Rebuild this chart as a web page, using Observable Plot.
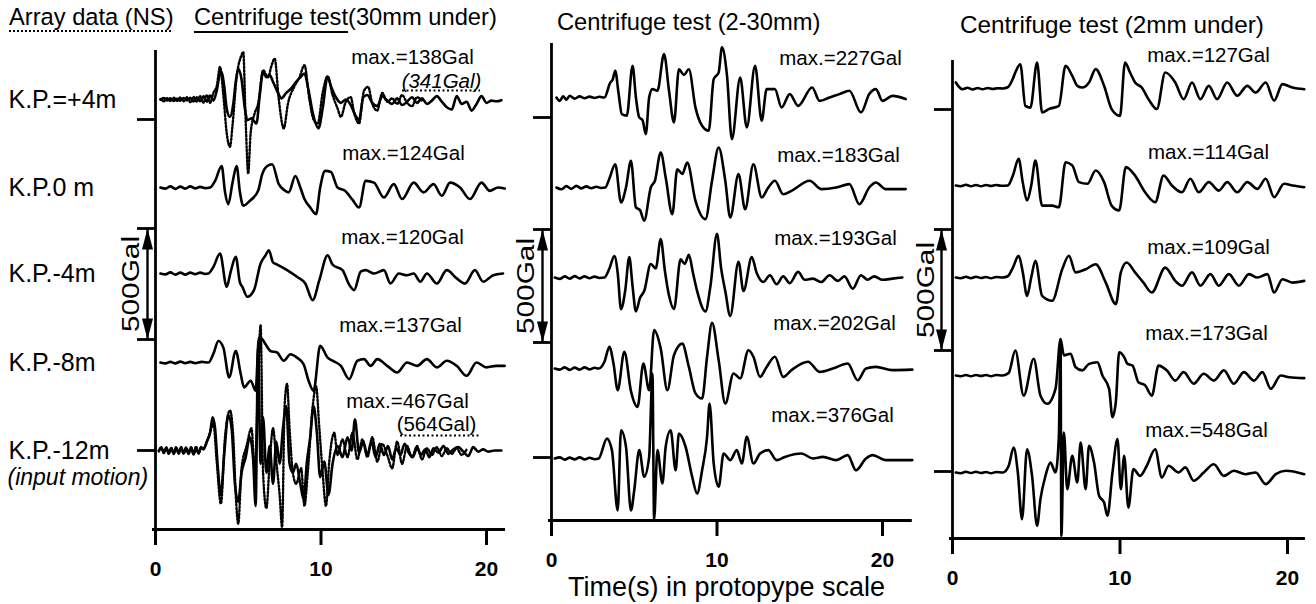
<!DOCTYPE html>
<html><head><meta charset="utf-8">
<script src="https://cdn.jsdelivr.net/npm/d3@7"></script>
<script src="https://cdn.jsdelivr.net/npm/@observablehq/plot@0.6"></script>
<style>
body{margin:0;background:#fff;}
#wrap{position:relative;width:1316px;height:604px;overflow:hidden;background:#fff;font-family:"Liberation Sans",Arial,sans-serif;color:#000;}
.t{position:absolute;white-space:nowrap;line-height:1;}
</style></head><body>
<div id="wrap">
 <div class="t" style="left:9px;top:6px;font-size:23.7px"><span style="text-decoration:underline dotted 2px;text-underline-offset:5px">Array data (NS)</span></div>
 <div class="t" style="left:194px;top:6px;font-size:23.7px"><span style="text-decoration:underline solid 2px;text-underline-offset:6px">Centrifuge test</span>(30mm under)</div>
 <div class="t" style="left:557px;top:11px;font-size:23.7px">Centrifuge test (2-30mm)</div>
 <div class="t" style="left:960px;top:13px;font-size:24.3px">Centrifuge test (2mm under)</div>
 <div class="t" style="left:568px;top:574px;font-size:27px">Time(s) in protopype scale</div>
</div>
<script>
// ---------- text content ----------
const rowNames = ["K.P.=+4m", "K.P.0 m", "K.P.-4m", "K.P.-8m", "K.P.-12m"];
const inputNote = "(input motion)";
const panel1Max = ["max.=138Gal", "max.=124Gal", "max.=120Gal", "max.=137Gal", "max.=467Gal"];
const panel1ArrayMax = ["(341Gal)", "(564Gal)"];
const panel2Max = ["max.=227Gal", "max.=183Gal", "max.=193Gal", "max.=202Gal", "max.=376Gal"];
const panel3Max = ["max.=127Gal", "max.=114Gal", "max.=109Gal", "max.=173Gal", "max.=548Gal"];
const timeTicks = [0, 10, 20];
const scaleBarLabel = "500Gal";

// ---------- traces: flat [time s, acceleration Gal, ...] ----------
// Panel 1: Centrifuge test (30mm under)
const p1_kp4 = [0.3,0, 0.5,6, 0.7,-4, 0.9,5, 1.1,-6, 1.3,3, 1.5,-5, 1.7,7, 1.9,-4, 2.1,8, 2.3,-9, 2.5,10, 2.7,-8, 2.9,14, 3.1,-10, 3.3,18, 3.5,-5, 3.7,40, 3.9,118, 4.0,124, 4.15,60, 4.3,-40, 4.5,-78, 4.7,-20, 4.85,80, 5.0,138, 5.2,90, 5.4,-40, 5.55,-93, 5.8,-85, 6.1,-108, 6.3,20, 6.5,124, 6.7,100, 6.9,110, 7.1,80, 7.4,30, 7.6,5, 7.9,30, 8.2,50, 8.5,80, 8.75,100, 9.0,117, 9.25,40, 9.5,-60, 9.85,-130, 10.1,-40, 10.4,102, 10.6,60, 10.9,10, 11.2,-15, 11.5,0, 11.8,-25, 12.1,-75, 12.3,-93, 12.55,10, 12.8,20, 13.1,-15, 13.4,-30, 13.7,15, 14.0,-5, 14.3,-20, 14.6,5, 14.9,-25, 15.2,-10, 15.5,10, 15.8,-15, 16.1,5, 16.4,-20, 16.7,-5, 17.0,15, 17.3,-10, 17.6,-35, 17.9,-45, 18.2,15, 18.5,-20, 18.8,-10, 19.1,-50, 19.4,-20, 19.7,15, 20.0,-15, 20.3,-5, 20.6,-8, 20.9,-3];
const p1_kp0 = [0.3,0, 0.6,-5, 0.9,5, 1.2,-6, 1.5,4, 1.8,-5, 2.1,5, 2.4,-4, 2.7,3, 3.0,-3, 3.3,0, 3.6,30, 4.0,97, 4.2,-20, 4.4,-75, 4.65,20, 4.9,97, 5.1,-20, 5.3,-82, 5.7,-60, 6.2,-15, 6.45,60, 6.75,97, 7.05,105, 7.45,15, 7.75,-10, 8.05,-22, 8.45,52, 8.75,0, 9.0,-52, 9.35,-90, 9.7,-120, 9.95,0, 10.25,75, 10.6,70, 11.0,0, 11.45,-15, 11.9,-55, 12.3,-90, 12.7,30, 13.2,22, 13.8,-45, 14.4,15, 14.9,-52, 15.6,22, 16.2,-22, 16.8,15, 17.3,-37, 17.8,22, 18.4,0, 19.0,-52, 19.7,22, 20.2,-15, 20.7,0, 21.1,-5];
const p1_kpm4 = [0.3,0, 0.6,-4, 0.9,5, 1.2,-5, 1.5,4, 1.8,-5, 2.1,4, 2.4,-3, 2.7,4, 3.0,-2, 3.2,0, 3.5,30, 3.9,90, 4.3,-60, 4.55,10, 4.85,75, 5.1,-40, 5.25,-60, 5.55,-105, 5.95,-75, 6.35,45, 6.65,82, 6.85,105, 7.1,50, 7.35,40, 7.95,15, 8.55,-15, 9.05,-45, 9.5,-120, 9.9,-30, 10.4,82, 10.7,40, 11.3,15, 11.7,-50, 12.0,-75, 12.4,8, 12.7,15, 13.2,0, 13.8,15, 14.2,-45, 14.7,0, 15.2,-8, 15.6,0, 16.0,-37, 16.4,0, 17.0,-45, 17.6,15, 18.2,-22, 18.7,-45, 19.3,15, 19.8,-37, 20.4,-8, 21.0,0];
const p1_kpm8 = [0.3,0, 0.6,-4, 0.9,3, 1.2,-4, 1.5,4, 1.8,-3, 2.1,3, 2.4,-3, 2.8,3, 3.2,0, 3.5,40, 3.8,97, 4.1,67, 4.45,-67, 4.85,52, 5.15,-52, 5.35,-112, 5.75,-82, 6.05,-127, 6.25,112, 6.45,105, 6.65,82, 6.95,52, 7.35,45, 7.75,8, 8.15,37, 8.55,22, 8.95,-8, 9.25,-82, 9.55,-127, 9.95,75, 10.4,22, 10.7,8, 11.2,-15, 11.7,-75, 12.2,8, 12.6,15, 13.0,-15, 13.4,15, 14.0,-15, 14.6,-45, 15.2,0, 15.8,-15, 16.4,15, 17.0,-22, 17.6,8, 18.2,-15, 18.8,-60, 19.4,0, 20.0,-22, 20.6,-15, 21.1,-15];
const p1_kpm12 = [0.2,0, 0.35,12, 0.5,-10, 0.65,14, 0.8,-12, 0.95,10, 1.1,-15, 1.25,12, 1.4,-14, 1.55,15, 1.7,-12, 1.85,10, 2.0,-16, 2.15,12, 2.3,-18, 2.45,10, 2.6,-14, 2.75,15, 2.9,5, 3.1,40, 3.3,80, 3.45,150, 3.6,100, 3.75,-60, 3.95,-200, 4.15,-20, 4.4,160, 4.6,100, 4.8,-150, 5.0,-230, 5.2,-100, 5.45,-30, 5.7,60, 5.9,-40, 6.05,-250, 6.2,467, 6.35,-60, 6.5,150, 6.7,-100, 6.9,20, 7.1,-150, 7.3,40, 7.5,-60, 7.7,100, 7.9,200, 8.1,-60, 8.3,-100, 8.5,-60, 8.75,-150, 8.95,-220, 9.15,-50, 9.35,60, 9.55,200, 9.75,80, 9.95,-120, 10.2,-50, 10.45,-200, 10.7,-60, 11.0,20, 11.3,-30, 11.6,60, 11.85,0, 12.05,140, 12.3,-10, 12.55,40, 12.8,-20, 13.05,40, 13.3,-30, 13.55,30, 13.8,-20, 14.05,20, 14.3,-40, 14.55,10, 14.8,-20, 15.05,30, 15.3,-10, 15.55,-30, 15.8,10, 16.05,-20, 16.3,5, 16.55,-30, 16.8,10, 17.1,-10, 17.4,20, 17.7,-15, 18.0,5, 18.3,15, 18.6,-5, 18.9,-25, 19.2,15, 19.5,-5, 19.8,5, 20.1,-5, 20.5,0, 20.9,0];
// Panel 1: Array data (NS), dotted
const arr_kp4 = [0.3,2, 0.5,-8, 0.7,6, 0.9,-7, 1.1,8, 1.3,-6, 1.5,9, 1.7,-8, 1.9,10, 2.1,-12, 2.3,12, 2.5,-10, 2.7,15, 2.9,-14, 3.1,20, 3.3,-15, 3.5,30, 3.7,60, 3.9,147, 4.1,20, 4.3,-150, 4.5,-213, 4.65,-120, 4.9,100, 5.2,200, 5.3,215, 5.45,-100, 5.6,-333, 5.75,-150, 6.0,-60, 6.2,-20, 6.5,132, 6.8,100, 7.0,150, 7.2,184, 7.45,0, 7.75,-130, 8.0,-20, 8.4,60, 8.7,100, 9.0,155, 9.3,0, 9.55,-90, 9.8,-108, 10.1,30, 10.4,105, 10.7,20, 11.0,-40, 11.2,-78, 11.5,-10, 11.8,10, 12.0,-60, 12.3,-108, 12.6,40, 12.85,57, 13.1,-20, 13.4,-50, 13.7,30, 14.0,-10, 14.3,5, 14.6,-20, 14.9,20, 15.2,-15, 15.5,-30, 15.8,10, 16.1,-5];
const arr_kpm12 = [0.2,-5, 0.35,15, 0.5,-12, 0.65,10, 0.8,-15, 0.95,12, 1.1,-10, 1.25,15, 1.4,-12, 1.55,10, 1.7,-15, 1.85,14, 2.0,-12, 2.15,15, 2.3,-10, 2.45,18, 2.6,-12, 2.75,10, 2.9,10, 3.2,60, 3.5,120, 3.7,-50, 3.95,-240, 4.2,60, 4.5,180, 4.7,60, 4.85,-200, 5.0,-330, 5.2,-80, 5.5,20, 5.8,100, 6.0,-100, 6.15,200, 6.35,564, 6.5,-100, 6.7,-260, 6.9,-50, 7.1,100, 7.3,-50, 7.5,-200, 7.65,-345, 7.8,200, 7.95,300, 8.1,100, 8.3,-100, 8.5,-150, 8.8,-80, 9.0,-250, 9.2,-100, 9.5,200, 9.7,290, 9.9,100, 10.1,-100, 10.3,-250, 10.5,-50, 10.8,80, 11.0,-20, 11.3,50, 11.6,-30, 11.9,80, 12.2,-40, 12.5,50, 12.8,-30, 13.1,60, 13.4,-50, 13.7,30, 14.0,-20, 14.3,-80, 14.6,40, 14.9,-60, 15.2,20, 15.5,-30, 15.8,20, 16.1,-40, 16.4,10, 16.7,-20, 17.0,15, 17.3,-25, 17.6,10, 17.9,-15, 18.2,10, 18.5,-20, 18.8,5];
// Panel 2: Centrifuge test (2-30mm)
const p2_227 = [0.3,0, 0.5,-15, 0.7,5, 0.9,-10, 1.1,8, 1.4,-5, 1.7,5, 2.0,-3, 2.3,4, 2.6,-2, 2.9,3, 3.2,0, 3.55,66, 3.7,80, 3.85,118, 4.05,20, 4.25,-74, 4.55,-80, 4.9,140, 5.1,0, 5.3,-88, 5.5,-100, 5.7,-162, 5.9,0, 6.1,37, 6.4,30, 6.8,192, 7.1,30, 7.4,-110, 7.7,125, 8.0,100, 8.3,125, 8.7,-45, 9.1,-125, 9.5,-147, 9.8,81, 10.1,110, 10.3,222, 10.6,100, 10.9,-184, 11.4,88, 11.8,-132, 12.3,140, 12.7,-103, 13.0,37, 13.5,37, 13.9,-44, 14.4,15, 14.9,-37, 15.75,44, 16.2,-15, 16.8,0, 17.4,15, 18.0,30, 18.7,-66, 19.2,15, 19.6,37, 20.0,-15, 20.6,7, 21.4,-7];
const p2_183 = [0.3,0, 0.6,-8, 0.9,6, 1.2,-6, 1.5,7, 1.8,-4, 2.1,5, 2.4,-3, 2.7,3, 3.0,-2, 3.25,0, 3.5,40, 3.85,103, 4.2,-66, 4.5,0, 4.8,118, 5.1,-88, 5.35,-100, 5.6,-147, 6.0,0, 6.25,30, 6.6,155, 6.9,44, 7.3,-118, 7.6,81, 7.9,60, 8.2,110, 8.7,-59, 9.3,-140, 9.7,30, 10.1,177, 10.5,30, 10.8,-133, 11.3,59, 11.7,-96, 12.2,103, 12.7,-44, 13.1,0, 13.5,30, 14.0,-30, 14.5,-15, 15.6,30, 16.3,-7, 17.2,0, 18.0,15, 18.6,-74, 19.2,0, 19.6,22, 20.2,-7, 21.4,-7];
const p2_193 = [0.2,0, 0.5,-6, 0.8,5, 1.1,-5, 1.4,6, 1.7,-4, 2.0,5, 2.3,-3, 2.6,4, 2.9,-2, 3.2,0, 3.5,40, 3.8,95, 4.0,20, 4.2,-140, 4.45,-60, 4.7,90, 4.9,-40, 5.1,-150, 5.35,-90, 5.6,-60, 6.0,60, 6.3,40, 6.6,170, 6.85,30, 7.1,-80, 7.4,-140, 7.8,80, 8.05,60, 8.3,100, 8.55,20, 8.8,-60, 9.3,-150, 9.6,-40, 10.0,193, 10.25,40, 10.5,-60, 10.8,-170, 11.3,70, 11.6,-60, 12.1,90, 12.4,20, 12.8,-20, 13.2,10, 13.6,-30, 14.0,5, 14.4,-25, 14.9,25, 15.3,-10, 15.8,-5, 16.3,-20, 16.8,10, 17.3,-15, 17.7,5, 18.2,-50, 18.7,10, 19.1,-10, 19.5,5, 20.0,-10, 20.6,-5, 21.2,0];
const p2_202 = [0.2,0, 0.5,-5, 0.8,5, 1.1,-6, 1.4,4, 1.7,-5, 2.0,5, 2.3,-4, 2.6,3, 2.85,0, 3.2,30, 3.5,96, 3.75,20, 4.0,-96, 4.4,74, 4.8,-100, 5.2,-170, 5.55,22, 5.9,-96, 6.2,170, 6.6,88, 7.0,-96, 7.4,59, 7.9,110, 8.3,7, 8.7,-110, 9.1,-133, 9.4,52, 9.7,202, 10.1,37, 10.5,-155, 11.0,-22, 11.4,-44, 11.9,81, 12.2,52, 12.6,-37, 13.0,7, 13.5,52, 14.0,-37, 14.5,-7, 15.5,30, 16.2,-15, 17.0,0, 17.9,22, 18.5,-52, 19.0,0, 19.6,7, 20.6,-7, 21.8,-5];
const p2_376 = [0.2,0, 0.5,5, 0.8,-5, 1.1,4, 1.4,-4, 1.7,5, 2.0,-4, 2.3,3, 2.6,-3, 2.85,0, 3.35,88, 3.65,37, 4.0,-230, 4.2,125, 4.5,52, 4.8,-230, 5.0,-140, 5.3,37, 5.6,-81, 5.9,7, 6.1,376, 6.2,-270, 6.4,37, 6.7,-110, 6.9,52, 7.2,125, 7.5,-52, 7.7,110, 8.1,52, 8.5,-81, 8.8,-155, 9.1,-52, 9.4,96, 9.55,243, 9.8,-22, 10.1,-125, 10.4,22, 10.8,-7, 11.2,37, 11.5,-22, 11.8,96, 12.2,-22, 12.6,22, 13.1,37, 13.6,-7, 14.1,7, 15.1,22, 15.8,0, 16.4,7, 17.2,-7, 17.9,15, 18.4,-52, 19.0,0, 19.4,15, 20.2,-7, 21.8,-7];
// Panel 3: Centrifuge test (2mm under)
const p3_127 = [0.2,25, 0.35,10, 0.6,-3, 0.9,3, 1.2,-4, 1.5,2, 1.8,-3, 2.1,2, 2.4,-2, 2.7,1, 3.0,0, 3.3,5, 3.6,40, 3.75,66, 4.05,100, 4.35,-72, 4.65,-79, 5.05,107, 5.35,-99, 5.75,-85, 6.35,-72, 6.75,94, 7.15,52, 7.45,11, 7.75,4, 8.15,25, 8.55,80, 9.05,11, 9.5,-85, 10.0,-113, 10.3,107, 10.6,66, 10.9,25, 11.3,4, 11.7,-44, 12.2,-85, 12.7,66, 13.3,25, 13.8,-44, 14.3,25, 14.8,-44, 15.3,11, 15.8,-44, 16.4,25, 17.0,-30, 17.6,11, 18.1,-17, 18.7,25, 19.2,-50, 19.7,18, 20.3,4, 21.0,-3];
const p3_114 = [0.2,0, 0.5,-3, 0.8,3, 1.1,-3, 1.4,2, 1.7,-3, 2.0,2, 2.3,-2, 2.6,2, 2.9,-1, 3.3,0, 3.6,40, 3.95,110, 4.2,10, 4.45,-62, 4.7,0, 4.95,103, 5.35,-83, 5.95,-83, 6.35,-90, 6.75,96, 7.15,83, 7.55,14, 8.05,7, 8.55,62, 9.05,14, 9.5,-83, 9.95,-103, 10.35,76, 10.9,41, 11.5,-28, 12.1,-69, 12.6,41, 13.1,0, 13.7,-28, 14.2,28, 14.7,-28, 15.3,14, 15.9,-21, 16.4,14, 17.0,-28, 17.6,14, 18.2,-14, 18.7,28, 19.2,-48, 19.8,7, 20.3,0, 21.0,-7];
const p3_109 = [0.2,0, 0.5,-3, 0.8,3, 1.1,-3, 1.4,3, 1.7,-2, 2.0,2, 2.3,-3, 2.6,2, 3.0,0, 3.3,5, 3.6,40, 3.95,90, 4.2,20, 4.45,-76, 4.7,0, 4.95,69, 5.35,-76, 5.95,-96, 6.55,34, 6.95,90, 7.35,21, 7.95,34, 8.55,55, 9.15,-21, 9.75,-110, 10.05,21, 10.4,62, 10.9,21, 11.4,-21, 11.9,-62, 12.7,41, 13.3,-14, 13.7,-34, 14.3,21, 14.8,-34, 15.4,14, 15.9,-34, 16.5,14, 17.1,-34, 17.7,14, 18.2,0, 18.8,14, 19.2,-62, 19.7,-7, 20.3,-21, 21.0,-14];
const p3_173 = [0.2,0, 0.5,-3, 0.8,2, 1.1,-3, 1.4,2, 1.7,-2, 2.0,2, 2.3,-3, 2.6,2, 3.0,0, 3.35,10, 3.75,103, 4.25,-83, 4.85,69, 5.25,-83, 5.65,-117, 6.15,-55, 6.45,151, 6.65,83, 7.05,90, 7.35,34, 7.75,21, 8.15,48, 8.65,55, 8.95,0, 9.35,-55, 9.55,-172, 9.75,-110, 9.95,96, 10.25,76, 10.45,48, 10.75,41, 11.1,-28, 11.5,-41, 11.9,-83, 12.3,41, 12.8,21, 13.3,-21, 13.8,14, 14.4,-34, 15.0,7, 15.6,-21, 16.2,21, 16.8,-34, 17.4,14, 18.0,-21, 18.5,14, 19.0,-55, 19.6,0, 20.1,-7, 21.0,-11];
const p3_548 = [0.2,0, 0.5,-3, 0.8,3, 1.1,-2, 1.4,3, 1.7,-2, 2.0,2, 2.3,-3, 2.6,2, 3.0,0, 3.35,27, 3.65,103, 3.9,0, 4.15,-193, 4.45,96, 4.75,-14, 5.05,-220, 5.25,-110, 5.55,-14, 5.85,41, 6.15,0, 6.35,150, 6.45,548, 6.5,-262, 6.65,165, 6.85,-69, 7.15,69, 7.45,-41, 7.65,124, 7.95,-69, 8.15,110, 8.45,41, 8.75,-96, 9.05,-124, 9.25,-179, 9.55,0, 9.85,138, 10.05,-69, 10.25,69, 10.5,-145, 10.8,14, 11.2,-14, 11.6,28, 12.1,96, 12.5,-21, 12.9,28, 13.5,0, 13.9,21, 14.4,-34, 15.0,0, 15.6,34, 16.2,-14, 16.8,7, 17.5,-7, 18.1,0, 18.7,-48, 19.3,-7, 19.9,7, 21.0,-7];

// ---------- layout (page pixels) ----------
const layout = [
  {left: 0, x0: 155, pps: 16.55, xMax: 21.15, top: 50, bottom: 529, ppg: 0.222,
   rows: [99, 187, 273, 362, 450], ticks: [119, 228, 339, 450], bar: [228, 339], barX: 147, barTextX: 131,
   maxPos: [[412, 57], [403, 153], [402, 237], [400, 325], [407, 401]]},
  {left: 505, x0: 551, pps: 16.55, xMax: 21.8, top: 43, bottom: 520, ppg: 0.226,
   rows: [97, 187, 277, 368, 458], ticks: [117, 229, 342, 457], bar: [229, 342], barX: 542, barTextX: 526,
   maxPos: [[840, 58], [838, 155], [835, 238], [834, 323], [832, 415]]},
  {left: 910, x0: 952, pps: 16.75, xMax: 21.07, top: 60, bottom: 538, ppg: 0.242,
   rows: [88, 185, 277, 375, 472], ticks: [109, 229, 350, 471], bar: [229, 350], barX: 941, barTextX: 926,
   maxPos: [[1208, 55], [1208, 152], [1208, 247], [1206, 333], [1206, 430]]}
];
const FONT = "'Liberation Sans', Arial, sans-serif";

const toPts = a => { const o = []; for (let i = 0; i < a.length; i += 2) o.push({t: a[i], v: a[i + 1]}); return o; };
const headUp = {draw(c) { c.moveTo(0, 0); c.lineTo(5.5, 21); c.lineTo(-5.5, 21); c.closePath(); }};

function buildPanel(cfg, solid, dotted, maxText, extraMarks) {
  const mL = cfg.x0 - cfg.left;
  const plotW = cfg.xMax * cfg.pps;
  const width = Math.round(mL + plotW + 10);
  const mR = width - mL - plotW;
  const H = 604;
  const yMax = (cfg.bottom - cfg.top) / cfg.ppg;
  const T = px => (px - cfg.x0) / cfg.pps;
  const G = py => (cfg.bottom - py) / cfg.ppg;
  const offs = cfg.rows.map(G);
  const solidData = solid.flatMap((arr, i) => toPts(arr).map(d => ({t: d.t, y: offs[i] + d.v, id: i})));
  const dottedData = dotted.flatMap(([row, arr]) => toPts(arr).map(d => ({t: d.t, y: offs[row] + d.v, id: row})));
  const b0 = G(cfg.bar[0]), b1 = G(cfg.bar[1]);
  const labels = maxText.map((s, i) => ({x: T(cfg.maxPos[i][0]), y: G(cfg.maxPos[i][1]), s}));
  const ctx = {T, G, offs};
  const svg = Plot.plot({
    width, height: H,
    marginLeft: mL, marginRight: mR, marginTop: cfg.top, marginBottom: H - cfg.bottom,
    x: {domain: [0, cfg.xMax]},
    y: {domain: [0, yMax], axis: null},
    style: {fontFamily: FONT, background: "transparent", overflow: "visible", color: "black"},
    marks: [
      Plot.ruleX([{x: 0, y1: 0, y2: yMax}], {x: "x", y1: "y1", y2: "y2", strokeWidth: 2.8}),
      Plot.ruleY([{y: 0, x1: T(cfg.x0 - 3), x2: cfg.xMax}], {y: "y", x1: "x1", x2: "x2", strokeWidth: 2.8}),
      Plot.ruleY(cfg.ticks.map(G), {x1: T(cfg.x0 - 18), x2: 0, strokeWidth: 2.8}),
      Plot.ruleX([{x: T(cfg.barX), y1: b1, y2: b0}], {x: "x", y1: "y1", y2: "y2", strokeWidth: 2.4}),
      Plot.dot([{x: T(cfg.barX), y: b0, r: 0}, {x: T(cfg.barX), y: b1, r: 180}], {x: "x", y: "y", rotate: "r", symbol: headUp, fill: "black", stroke: "none"}),
      Plot.text([scaleBarLabel], {x: T(cfg.barTextX), y: (b0 + b1) / 2, rotate: -90, fontSize: 23}),
      Plot.line(dottedData, {x: "t", y: "y", z: "id", stroke: "black", strokeWidth: 2.4, strokeDasharray: "1.6,2", curve: "monotone-x"}),
      Plot.line(solidData, {x: "t", y: "y", z: "id", stroke: "black", strokeWidth: 2.6, strokeLinejoin: "round", curve: "monotone-x"}),
      Plot.text(labels, {x: "x", y: "y", text: "s", fontSize: 20.5}),
      Plot.axisX({ticks: timeTicks, tickSize: 16, tickPadding: 16, strokeWidth: 3, fontSize: 21, fontWeight: "bold", label: null}),
      ...(extraMarks ? extraMarks(ctx) : [])
    ]
  });
  d3.select(svg).selectAll("text").filter(function () { return this.textContent === scaleBarLabel; })
    .attr("textLength", 96).attr("lengthAdjust", "spacingAndGlyphs");
  svg.style.position = "absolute";
  svg.style.left = cfg.left + "px";
  svg.style.top = "0px";
  document.getElementById("wrap").appendChild(svg);
}

buildPanel(layout[0], [p1_kp4, p1_kp0, p1_kpm4, p1_kpm8, p1_kpm12], [[0, arr_kp4], [4, arr_kpm12]], panel1Max, ({T, G, offs}) => [
  Plot.text(rowNames, {x: T(8), y: (d, i) => offs[i], textAnchor: "start", fontSize: 25}),
  Plot.text([inputNote], {x: T(7), y: G(477), textAnchor: "start", fontSize: 23, fontStyle: "italic"}),
  Plot.text([panel1ArrayMax[0]], {x: T(441), y: G(81), fontSize: 20.5, fontStyle: "italic"}),
  Plot.ruleY([G(90)], {x1: T(402), x2: T(480), strokeWidth: 2, strokeDasharray: "2,2.5"}),
  Plot.text([panel1ArrayMax[1]], {x: T(436), y: G(424), fontSize: 20.5}),
  Plot.ruleY([G(435)], {x1: T(400), x2: T(480), strokeWidth: 2.2, strokeDasharray: "2,2.5"})
]);
buildPanel(layout[1], [p2_227, p2_183, p2_193, p2_202, p2_376], [], panel2Max);
buildPanel(layout[2], [p3_127, p3_114, p3_109, p3_173, p3_548], [], panel3Max);
</script>
</body></html>
